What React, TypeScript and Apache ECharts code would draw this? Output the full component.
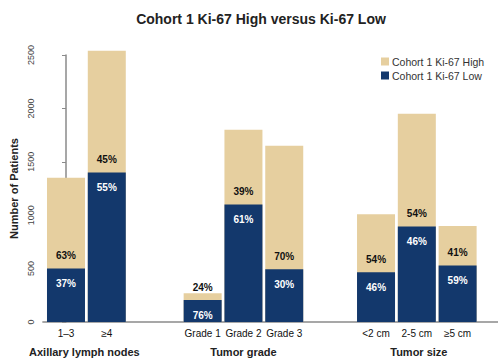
import React, { useEffect, useRef } from "react";
import * as echarts from "echarts";

const categories = ["1\u20133", "\u22654", "Grade 1", "Grade 2", "Grade 3", "<2 cm", "2-5 cm", "\u22655 cm"];
// bar placements along the x axis, in bar-slot units (groups separated by wider gaps)
const xPos = [0, 1, 3.35, 4.35, 5.35, 7.6, 8.6, 9.6];
const groups = ["Axillary lymph nodes", "Tumor grade", "Tumor size"];
const groupPos = [0.45, 4.35, 8.65];
const totalPatients = [1350, 2540, 270, 1800, 1650, 1010, 1950, 900];
const lowPatients = [500, 1400, 205, 1100, 495, 465, 895, 530];
const highPct = [63, 45, 24, 39, 70, 54, 54, 41];
const lowPct = [37, 55, 76, 61, 30, 46, 46, 59];
const yTicks = [0, 500, 1000, 1500, 2000, 2500];

const FONT = "Arial, 'Liberation Sans', Helvetica, sans-serif";
const HIGH = "Cohort 1 Ki-67 High";
const LOW = "Cohort 1 Ki-67 Low";

export default function App() {
  const ref = useRef<HTMLDivElement>(null);
  useEffect(() => {
    if (!ref.current) return;
    const chart = echarts.init(ref.current, null, { renderer: "svg" });
    const nearest = (v: number, arr: number[]) => {
      let bi = 0;
      arr.forEach((p, i) => {
        if (Math.abs(p - v) < Math.abs(arr[bi] - v)) bi = i;
      });
      return bi;
    };
    const lowData = xPos.map((x, i) => [x, lowPatients[i]]);
    const totalData = xPos.map((x, i) => [x, totalPatients[i]]);
    const pctLabel = {
      show: true,
      fontSize: 10,
      fontWeight: "bold",
      fontFamily: FONT,
    };
    chart.setOption({
      animation: false,
      textStyle: { fontFamily: FONT },
      title: {
        text: "Cohort 1 Ki-67 High versus Ki-67 Low",
        left: 256,
        textAlign: "center",
        top: 7,
        textStyle: { fontSize: 14, fontWeight: "bold", color: "#222", fontFamily: FONT },
      },
      legend: {
        orient: "vertical",
        left: 376,
        top: 51,
        itemWidth: 8,
        itemHeight: 8,
        itemGap: 3,
        icon: "rect",
        data: [HIGH, LOW],
        textStyle: { fontSize: 10.5, color: "#333", fontFamily: FONT, padding: [0, 0, 0, -2] },
      },
      grid: { left: 41, right: 0, top: 55, bottom: 38, containLabel: false },
      xAxis: [
        {
          type: "value",
          min: -0.566,
          max: 10.59,
          axisLine: { show: true, onZero: false, lineStyle: { color: "#8a8a8a", width: 1.5 } },
          axisTick: { show: false },
          splitLine: { show: false },
          axisLabel: {
            customValues: xPos,
            margin: 6,
            fontSize: 10,
            color: "#111",
            fontFamily: FONT,
            formatter: (v: number) => categories[nearest(v, xPos)],
          },
        },
        {
          type: "value",
          position: "bottom",
          offset: 18,
          min: -0.566,
          max: 10.59,
          axisLine: { show: false },
          axisTick: { show: false },
          splitLine: { show: false },
          axisLabel: {
            customValues: groupPos,
            margin: 6,
            fontSize: 11,
            fontWeight: "bold",
            color: "#222",
            fontFamily: FONT,
            formatter: (v: number) => groups[nearest(v, groupPos)],
          },
        },
      ],
      yAxis: {
        type: "value",
        min: yTicks[0],
        max: yTicks[yTicks.length - 1],
        interval: 500,
        name: "Number of Patients",
        nameLocation: "middle",
        nameGap: 22,
        nameRotate: 90,
        nameTextStyle: { fontSize: 11, fontWeight: "bold", color: "#222", fontFamily: FONT },
        axisLine: { show: true, lineStyle: { color: "#8a8a8a", width: 1.5 } },
        axisTick: { show: true, length: 4, lineStyle: { color: "#8a8a8a" } },
        splitLine: { show: false },
        axisLabel: {
          rotate: 90,
          fontSize: 9,
          color: "#444",
          margin: 7,
          fontFamily: FONT,
          formatter: (v: number) => String(v),
        },
      },
      series: [
        {
          name: HIGH,
          type: "bar",
          xAxisIndex: 0,
          barWidth: 38,
          barGap: "-100%",
          clip: false,
          z: 1,
          data: totalData,
          itemStyle: { color: "#E6CF9F" },
          label: { show: false },
        },
        {
          name: LOW,
          type: "bar",
          xAxisIndex: 0,
          barWidth: 38,
          barGap: "-100%",
          clip: false,
          z: 2,
          data: lowData,
          itemStyle: { color: "#13386C" },
          label: {
            ...pctLabel,
            position: "insideTop",
            distance: 10,
            color: "#fff",
            formatter: (p: any) => lowPct[p.dataIndex] + "%",
          },
        },
        {
          name: "high-pct-labels",
          type: "bar",
          xAxisIndex: 0,
          barWidth: 38,
          barGap: "-100%",
          clip: false,
          z: 3,
          silent: true,
          data: lowData,
          itemStyle: { color: "transparent" },
          label: {
            ...pctLabel,
            position: "top",
            distance: 8,
            color: "#111",
            formatter: (p: any) => highPct[p.dataIndex] + "%",
          },
        },
      ],
    });
    return () => chart.dispose();
  }, []);
  return <div ref={ref} style={{ width: 498, height: 360, position: "absolute", left: 0, top: 0 }} />;
}
